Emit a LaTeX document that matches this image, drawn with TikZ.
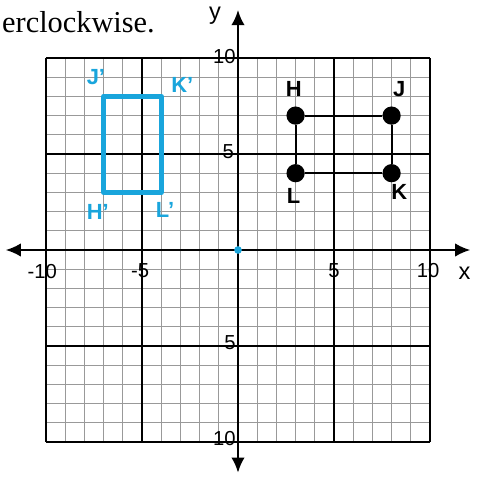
\documentclass[tikz,border=0pt]{standalone}
\usepackage{fontspec}
\setmainfont{Liberation Serif}
\setsansfont{Liberation Sans}
\usetikzlibrary{arrows.meta}
\definecolor{penblue}{RGB}{25,165,220}
\tikzset{
  dot/.style={circle,fill=black,inner sep=0pt,minimum size=0.38cm},
  hand/.style={font=\sffamily\bfseries\fontsize{13}{13}\selectfont},
  tick/.style={font=\sffamily\fontsize{12}{12}\selectfont},
  axis/.style={line width=1.3pt,{Latex[length=9pt,width=8pt]}-{Latex[length=9pt,width=8pt]}}
}
\begin{document}
\begin{tikzpicture}[x=0.4cm,y=0.4cm]
\useasboundingbox (-12.396,-11.875) rectangle (12.917,13.021);
\foreach \i in {-10,...,10} {
  \draw [gray!80,line width=0.5pt] (\i,-10) -- (\i,10);
  \draw [gray!80,line width=0.5pt] (-10,\i) -- (10,\i);
}
\foreach \i in {-10,-5,0,5,10} {
  \draw [black,line width=0.9pt] (\i,-10) -- (\i,10);
  \draw [black,line width=0.9pt] (-10,\i) -- (10,\i);
}
\draw [axis] (-12.1,0) -- (12.1,0);
\draw [axis] (0,-11.6) -- (0,12.5);
\node [font=\sffamily\fontsize{14}{14}\selectfont] (ylab) at (-1.2,12.2) {y};
\node [font=\sffamily\fontsize{14}{14}\selectfont] (xlab) at (11.8,-1.2) {x};
\node [anchor=base west,font=\fontsize{18}{18}\selectfont,inner sep=0pt] (txt) at (-12.3,11.35) {erclockwise.};
% tick labels
\node [tick,anchor=east,inner sep=0pt] at (-0.1,10.1) {10};
\node [tick,anchor=east,inner sep=0pt] at (-0.2,5.1) {5};
\node [tick,anchor=east,inner sep=0pt] at (-0.1,-4.85) {5};
\node [tick,anchor=east,inner sep=0pt] at (-0.1,-9.8) {10};
\node [tick] at (-10.2,-1.1) {-10};
\node [tick] at (-5.1,-1.1) {-5};
\node [tick] at (5,-1.1) {5};
\node [tick] at (9.9,-1.05) {10};
% original figure
\node [dot] (H) at (3,7) {};
\node [dot] (J) at (8,7) {};
\node [dot] (K) at (8,4) {};
\node [dot] (L) at (3,4) {};
\draw [line width=1.2pt] (H) -- (J) -- (K) -- (L) -- (H);
\node [hand] at (2.9,8.4) {H};
\node [hand] at (8.4,8.4) {J};
\node [hand] at (8.4,3.0) {K};
\node [hand] at (2.9,2.8) {L};
% rotated image
\coordinate (H') at (-7,3);
\coordinate (J') at (-7,8);
\coordinate (K') at (-4,8);
\coordinate (L') at (-4,3);
\draw [penblue,line width=3pt,line join=round] (J') -- (K') -- (L') -- (H') -- cycle;
\node [hand,text=penblue] at (-7.4,9.0) {J'};
\node [hand,text=penblue] at (-2.9,8.6) {K'};
\node [hand,text=penblue] at (-7.3,2.0) {H'};
\node [hand,text=penblue] at (-3.8,2.1) {L'};
\fill [penblue] (0,0) circle (0.2);
\end{tikzpicture}
\end{document}
